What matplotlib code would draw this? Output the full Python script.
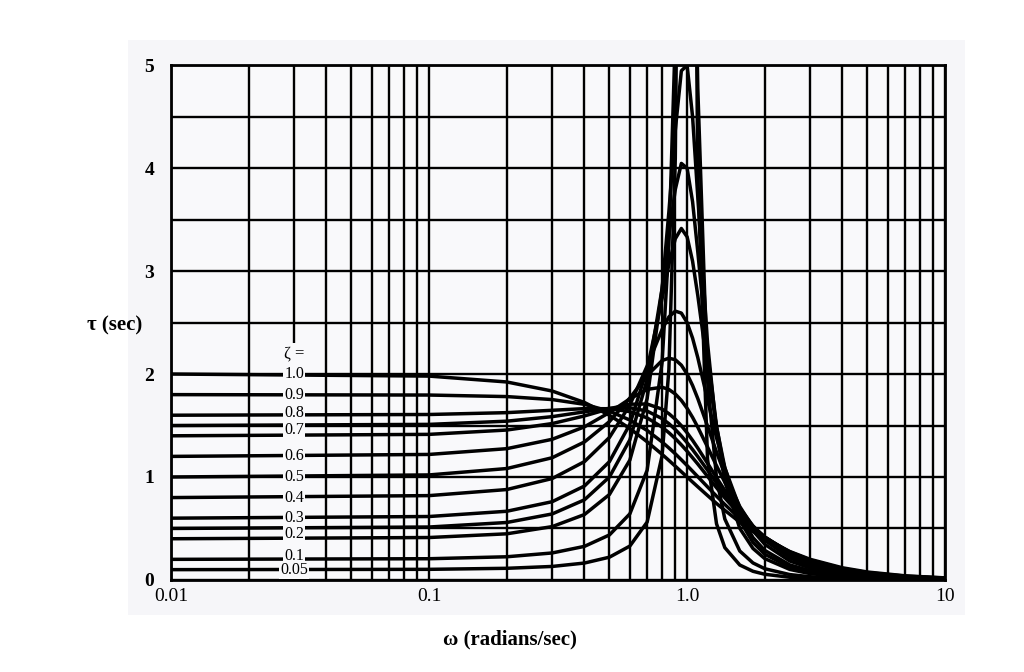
import matplotlib
matplotlib.use("Agg")
import matplotlib.pyplot as plt
from matplotlib.patches import Rectangle
from matplotlib.ticker import FixedLocator, NullFormatter

# frequency points (rad/sec) shared by every curve
omega = [0.01, 0.1, 0.2, 0.3, 0.4, 0.5, 0.6, 0.7, 0.8, 0.85, 0.9, 0.95, 1.0, 1.05,
         1.1, 1.2, 1.3, 1.4, 1.6, 1.8, 2.0, 2.5, 3.0, 4.0, 5.0, 7.0, 10.0]

# group delay, one list per damping ratio
tau_100 = [2.0, 1.980, 1.923, 1.835, 1.724, 1.6, 1.471, 1.342, 1.220, 1.161, 1.105, 1.051, 1.0, 0.951,
           0.905, 0.820, 0.743, 0.676, 0.562, 0.472, 0.4, 0.276, 0.2, 0.118, 0.077, 0.04, 0.020]
tau_090 = [1.8, 1.796, 1.781, 1.752, 1.706, 1.639, 1.553, 1.452, 1.340, 1.282, 1.225, 1.167, 1.111, 1.056,
           1.003, 0.904, 0.814, 0.733, 0.597, 0.492, 0.410, 0.273, 0.193, 0.111, 0.071, 0.037, 0.018]
tau_080 = [1.6, 1.607, 1.625, 1.648, 1.664, 1.663, 1.635, 1.574, 1.484, 1.430, 1.373, 1.312, 1.25, 1.187,
           1.126, 1.006, 0.896, 0.797, 0.634, 0.510, 0.416, 0.266, 0.184, 0.102, 0.065, 0.033, 0.016]
tau_075 = [1.5, 1.511, 1.542, 1.586, 1.633, 1.667, 1.673, 1.640, 1.567, 1.518, 1.461, 1.399, 1.333, 1.266,
           1.198, 1.066, 0.943, 0.833, 0.652, 0.517, 0.417, 0.261, 0.178, 0.098, 0.062, 0.031, 0.015]
tau_070 = [1.4, 1.414, 1.456, 1.519, 1.593, 1.663, 1.707, 1.709, 1.659, 1.615, 1.561, 1.498, 1.429, 1.356,
           1.281, 1.133, 0.994, 0.870, 0.669, 0.522, 0.416, 0.255, 0.171, 0.093, 0.058, 0.029, 0.014]
tau_060 = [1.2, 1.219, 1.275, 1.366, 1.487, 1.626, 1.759, 1.851, 1.872, 1.850, 1.806, 1.744, 1.667, 1.579,
           1.484, 1.291, 1.109, 0.949, 0.698, 0.525, 0.407, 0.238, 0.156, 0.082, 0.051, 0.025, 0.012]
tau_050 = [1.0, 1.020, 1.082, 1.187, 1.340, 1.538, 1.767, 1.986, 2.131, 2.154, 2.139, 2.086, 2.0, 1.889,
           1.762, 1.494, 1.242, 1.027, 0.713, 0.513, 0.385, 0.214, 0.137, 0.071, 0.043, 0.021, 0.010]
tau_040 = [0.8, 0.819, 0.878, 0.985, 1.149, 1.384, 1.7, 2.078, 2.433, 2.555, 2.611, 2.592, 2.5, 2.349,
           2.160, 1.750, 1.382, 1.088, 0.699, 0.478, 0.346, 0.184, 0.115, 0.058, 0.035, 0.017, 0.008]
tau_030 = [0.6, 0.616, 0.667, 0.760, 0.912, 1.149, 1.513, 2.048, 2.733, 3.066, 3.314, 3.414, 3.333, 3.096,
           2.764, 2.056, 1.488, 1.091, 0.637, 0.411, 0.287, 0.146, 0.089, 0.044, 0.027, 0.013, 0.006]
tau_025 = [0.5, 0.514, 0.558, 0.641, 0.778, 1.0, 1.361, 1.947, 2.831, 3.343, 3.793, 4.046, 4.0, 3.674,
           3.188, 2.204, 1.497, 1.048, 0.579, 0.364, 0.25, 0.124, 0.075, 0.037, 0.022, 0.011, 0.005]
tau_020 = [0.4, 0.412, 0.448, 0.518, 0.635, 0.830, 1.164, 1.761, 2.828, 3.577, 4.369, 4.945, 5.0, 4.500,
           3.719, 2.302, 1.441, 0.959, 0.501, 0.306, 0.207, 0.102, 0.061, 0.030, 0.018, 0.009, 0.004]
tau_010 = [0.2, 0.206, 0.225, 0.262, 0.326, 0.437, 0.642, 1.065, 2.113, 3.253, 5.285, 8.344, 10.0, 7.701,
           4.778, 1.943, 0.990, 0.592, 0.281, 0.165, 0.109, 0.052, 0.031, 0.015, 0.009, 0.004, 0.002]
tau_005 = [0.1, 0.103, 0.113, 0.131, 0.164, 0.221, 0.329, 0.562, 1.206, 2.046, 4.095, 10.27, 20.0, 9.76,
           3.93, 1.173, 0.546, 0.314, 0.145, 0.084, 0.055, 0.026, 0.016, 0.008, 0.005, 0.002, 0.001]

curves = [tau_100, tau_090, tau_080, tau_075, tau_070, tau_060, tau_050,
          tau_040, tau_030, tau_025, tau_020, tau_010, tau_005]

# zeta labels written along the left part of the curves
zeta_labels = ["1.0", "0.9", "0.8", "0.7", "0.6", "0.5", "0.4", "0.3", "0.2", "0.1", "0.05"]
zeta_label_tau = [2.0, 1.8, 1.62, 1.46, 1.2, 1.0, 0.8, 0.6, 0.45, 0.235, 0.095]
label_omega = 0.03

serif = "Liberation Serif"
bg = "#f9f9fb"

fig = plt.figure(figsize=(10.24, 6.72), dpi=100)
fig.patch.set_facecolor("white")
# faint grey of the scanned page, behind the axes
fig.patches.append(Rectangle((128 / 1024, 1 - 615 / 672), 837 / 1024, 575 / 672,
                             transform=fig.transFigure, facecolor="#f6f6f9",
                             edgecolor="none", zorder=-10))

ax = fig.add_axes([0.167, 0.137, 0.756, 0.766])
ax.set_facecolor(bg)
ax.set_xscale("log")
ax.set_xlim(0.01, 10)
ax.set_ylim(0, 5)

for tau in curves:
    ax.plot(omega, tau, color="black", lw=2.5, zorder=3, solid_capstyle="round")

# grid: decades + 2..9 and every 0.5 sec
minor_x = [m * d for d in (0.01, 0.1, 1.0) for m in range(2, 10)]
ax.xaxis.set_minor_locator(FixedLocator(minor_x))
ax.xaxis.set_minor_formatter(NullFormatter())
ax.set_xticks([0.01, 0.1, 1.0, 10])
ax.set_xticklabels(["0.01", "0.1", "1.0", "10"], fontfamily=serif, fontsize=14)
ax.set_yticks([0, 1, 2, 3, 4, 5])
ax.set_yticklabels(["0", "1", "2", "3", "4", "5"], fontfamily=serif, fontsize=14,
                   fontweight="bold")
ax.set_yticks([0.5, 1.5, 2.5, 3.5, 4.5], minor=True)
ax.grid(True, which="both", color="black", lw=1.7, zorder=1)
ax.set_axisbelow(True)
ax.tick_params(which="both", length=0)
ax.tick_params(axis="x", pad=6)
ax.tick_params(axis="y", pad=12)
for sp in ax.spines.values():
    sp.set_linewidth(2.0)

# the label column hides the 0.03 grid line
ax.plot([label_omega, label_omega], [0.02, 2.3], color=bg, lw=3, zorder=2,
        solid_capstyle="butt")

# zeta labels
ax.text(label_omega, 2.2, "ζ =", ha="center", va="center", fontsize=12, family=serif,
        zorder=5)
for lab, yv in zip(zeta_labels, zeta_label_tau):
    ax.text(label_omega, yv, lab, ha="center", va="center", fontsize=11.5, family=serif,
            zorder=5, bbox=dict(facecolor=bg, edgecolor="none", pad=0.6))

fig.text(0.112, 0.516, "τ (sec)", ha="center", va="center", fontsize=15,
         family=serif, fontweight="bold")
fig.text(0.498, 0.048, "ω (radians/sec)", ha="center", va="center", fontsize=15,
         family=serif, fontweight="bold")

fig.savefig("out.png", dpi=100)
